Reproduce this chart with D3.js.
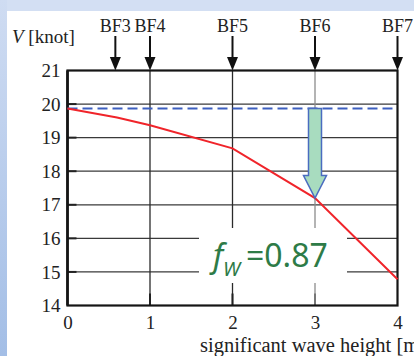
<!DOCTYPE html>
<html><head><meta charset="utf-8">
<script src="https://cdn.jsdelivr.net/npm/d3@7"></script>
<style>html,body{margin:0;padding:0;overflow:hidden;background:#fff}</style>
</head><body>
<script>
const waveHeights = [0, 0.6, 1, 2, 3, 4];
const speeds = [19.87, 19.6, 19.37, 18.68, 17.2, 14.78];
const calmSpeed = 19.87;
const xTicks = [0, 1, 2, 3, 4];
const yTicks = [14, 15, 16, 17, 18, 19, 20, 21];
const bfLabels = ["BF3", "BF4", "BF5", "BF6", "BF7"];
const bfHeights = [0.58, 1, 2, 3, 4];
const fwValue = "0.87";
const fwAt = 3;

(function () {
const W = 414, H = 356;
const svg = d3.select("body").append("svg").attr("width", W).attr("height", H);
const defs = svg.append("defs");
const lg = defs.append("linearGradient").attr("id", "lg").attr("x1", 0).attr("y1", 0).attr("x2", 0).attr("y2", 1);
lg.append("stop").attr("offset", 0).attr("stop-color", "#cfdcf2");
lg.append("stop").attr("offset", 1).attr("stop-color", "#a3bee6");

svg.append("rect").attr("width", W).attr("height", H).attr("fill", "#d3dff3");
svg.append("rect").attr("x", 0).attr("y", 0).attr("width", 7).attr("height", H).attr("fill", "url(#lg)");
svg.append("rect").attr("x", 7).attr("y", 11).attr("width", W - 7).attr("height", H - 11).attr("fill", "#fff");

const x = d3.scaleLinear().domain([0, 4]).range([67.5, 397.5]);
const y = d3.scaleLinear().domain([14, 21]).range([305.5, 70.5]);
const serif = "'Liberation Serif','Times New Roman',serif";

// gridlines
svg.append("g").selectAll("line").data(yTicks.filter(d => d > 14 && d < 21)).join("line")
  .attr("x1", x(0)).attr("x2", x(4)).attr("y1", d => y(d)).attr("y2", d => y(d))
  .attr("stroke", "#3a3a3a").attr("stroke-width", 1.3);
svg.append("g").selectAll("line").data(xTicks.filter(d => d > 0 && d < 4)).join("line")
  .attr("x1", d => x(d)).attr("x2", d => x(d)).attr("y1", y(21)).attr("y2", y(14))
  .attr("stroke", d => d === 3 ? "#8c8c8c" : "#2a2a2a").attr("stroke-width", 1.3);
// inner ticks
svg.append("g").selectAll("line").data(yTicks.filter(d => d > 14 && d < 21)).join("line")
  .attr("x1", x(0)).attr("x2", x(0) + 9).attr("y1", d => y(d)).attr("y2", d => y(d))
  .attr("stroke", "#222").attr("stroke-width", 2);
svg.append("g").selectAll("line").data(xTicks.filter(d => d > 0 && d < 4)).join("line")
  .attr("x1", d => x(d)).attr("x2", d => x(d)).attr("y1", y(14)).attr("y2", y(14) - 12)
  .attr("stroke", d => d === 3 ? "#777" : "#222").attr("stroke-width", 2);

// label box
svg.append("rect").attr("x", 199).attr("y", 228).attr("width", 148).attr("height", 55).attr("fill", "#fff");

// frame
svg.append("rect").attr("x", x(0)).attr("y", y(21)).attr("width", x(4) - x(0)).attr("height", y(14) - y(21))
  .attr("fill", "none").attr("stroke", "#151515").attr("stroke-width", 2.2);
svg.append("line").attr("x1", x(0)).attr("x2", x(0)).attr("y1", y(21)).attr("y2", y(14))
  .attr("stroke", "#151515").attr("stroke-width", 2.6);

// axes labels
const ax = svg.append("g").attr("transform", `translate(${x(0)},0)`)
  .call(d3.axisLeft(y).tickValues(yTicks).tickFormat(d3.format("d")).tickSize(0).tickPadding(7));
ax.select(".domain").remove();
ax.selectAll("text").attr("font-family", serif).attr("font-size", 19).attr("fill", "#222");
const bx = svg.append("g").attr("transform", `translate(0,${y(14)})`)
  .call(d3.axisBottom(x).tickValues(xTicks).tickFormat(d3.format("d")).tickSize(0).tickPadding(10));
bx.select(".domain").remove();
bx.selectAll("text").attr("font-family", serif).attr("font-size", 19).attr("fill", "#222");

// calm line
svg.append("line").attr("x1", x(0)).attr("x2", x(4)).attr("y1", y(calmSpeed)).attr("y2", y(calmSpeed))
  .attr("stroke", "#3d5fbf").attr("stroke-width", 2).attr("stroke-dasharray", "10,5");

// red curve
svg.append("path").datum(waveHeights.map((h, i) => [h, speeds[i]]))
  .attr("d", d3.line().x(d => x(d[0])).y(d => y(d[1])))
  .attr("fill", "none").attr("stroke", "#f0242a").attr("stroke-width", 2);

// green arrow
const ax3 = x(fwAt), yTop = y(calmSpeed), yTip = y(speeds[waveHeights.indexOf(fwAt)]);
const sw = 6.5, hw = 11.5, hl = 22.5;
svg.append("path").attr("d", `M${ax3 - sw},${yTop}L${ax3 + sw},${yTop}L${ax3 + sw},${yTip - hl}L${ax3 + hw},${yTip - hl}L${ax3},${yTip}L${ax3 - hw},${yTip - hl}L${ax3 - sw},${yTip - hl}Z`)
  .attr("fill", "#a8dcbf").attr("stroke", "#4a6cc0").attr("stroke-width", 1.5).attr("stroke-linejoin", "miter");

// BF arrows
const bf = svg.append("g").selectAll("g").data(bfLabels).join("g").attr("transform", (d, i) => `translate(${x(bfHeights[i])},0)`);
bf.append("line").attr("x1", 0).attr("x2", 0).attr("y1", 36).attr("y2", 58).attr("stroke", "#111").attr("stroke-width", 2);
bf.append("path").attr("d", `M-5.5,57L5.5,57L0,${y(21)}Z`).attr("fill", "#111");
bf.append("text").attr("y", 32).attr("text-anchor", "middle").attr("font-family", serif).attr("font-size", 18).attr("fill", "#222").text(d => d);

// y label
const yl = svg.append("text").attr("x", 12).attr("y", 43).attr("font-family", serif).attr("font-size", 19).attr("fill", "#222");
yl.append("tspan").attr("font-style", "italic").text("V");
yl.append("tspan").text(" [knot]");

// x label
svg.append("text").attr("x", 200).attr("y", 352).attr("font-family", serif).attr("font-size", 20.5).attr("fill", "#222").text("significant wave height [m]");

// f_W label
const sans = "'Noto Sans','Open Sans',sans-serif";
const green = "#2e7b47";
svg.append("text").attr("x", 213).attr("y", 267).attr("font-family", sans).attr("font-size", 32).attr("font-style", "italic").attr("fill", green).text("f");
svg.append("text").attr("x", 223).attr("y", 276).attr("font-family", sans).attr("font-size", 20).attr("font-style", "italic").attr("fill", green).text("W");
svg.append("text").attr("x", 246).attr("y", 267).attr("font-family", sans).attr("font-size", 32).attr("fill", green).text("=" + fwValue);
})();
</script>
</body></html>
